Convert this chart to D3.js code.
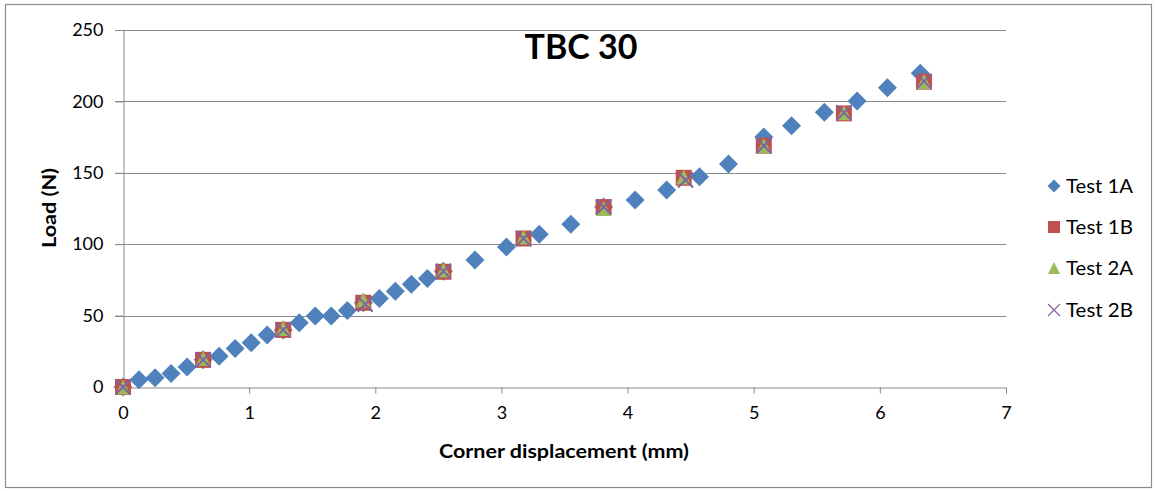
<!DOCTYPE html>
<html><head><meta charset="utf-8">
<script src="https://cdn.jsdelivr.net/npm/d3@7"></script>
<style>body{margin:0;background:#fff;} svg{display:block;}</style>
</head><body>
<svg id="chart" width="1155" height="491"></svg>
<script>
const title = "TBC 30";
const xLabel = "Corner displacement (mm)";
const yLabel = "Load (N)";
const xTicks = [0,1,2,3,4,5,6,7];
const yTicks = [0,50,100,150,200,250];

const test1A_x = [0,0.127,0.254,0.381,0.508,0.635,0.762,0.889,1.016,1.143,1.27,1.397,1.524,1.651,1.778,1.905,2.032,2.159,2.286,2.413,2.54,2.79,3.04,3.30,3.55,3.81,4.06,4.31,4.57,4.80,5.08,5.30,5.56,5.82,6.06,6.32];
const test1A_y = [0,5,6.5,9.5,14,19,21.5,27,31,36.5,40,45,49.7,49.7,53.5,59,62,67,72,76,81,89,98,107,114,126,131,138,147.3,156.2,175,183,192.4,200.3,209.6,219.7];

const test1B_x = [0,0.635,1.27,1.905,2.54,3.175,3.81,4.445,5.08,5.715,6.35];
const test1B_y = [0,19,40,59,80.7,104,126,146.5,169,191.6,213.8];

const test2A_x = [0,0.635,1.27,1.905,2.54,3.175,3.81,4.445,5.08,5.715,6.35];
const test2A_y = [0,20,41,61,82,105,125,147,169,192,214];

const test2B_x = [0,0.635,1.27,1.92,2.54,3.175,3.81,4.46,5.08,5.715,6.35];
const test2B_y = [0,19,40,58,81,104,126,145,169,192,214];

const seriesNames = ["Test 1A","Test 1B","Test 2A","Test 2B"];
const colors = ["#4F81BD","#C0504D","#9BBB59","#8064A2"];

const svg = d3.select("#chart");
const font = "Lato, 'Open Sans', sans-serif";

// outer frame
svg.append("rect").attr("x",5.5).attr("y",4.5).attr("width",1146).attr("height",483)
  .attr("fill","#fff").attr("stroke","#8c8c8c").attr("stroke-width",1.2);

const x = d3.scaleLinear().domain([0,7]).range([123,1006]);
const y = d3.scaleLinear().domain([0,250]).range([387,30]);

// gridlines
svg.append("g").selectAll("line").data(yTicks.filter(d=>d>0)).join("line")
  .attr("x1",x(0)-8).attr("x2",x(7)).attr("y1",d=>Math.round(y(d))+0.5).attr("y2",d=>Math.round(y(d))+0.5)
  .attr("stroke","#8a8a8a").attr("stroke-width",1);

// y axis
const yAxis = d3.axisLeft(y).tickValues(yTicks).tickSize(8).tickPadding(12).tickFormat(d3.format("d"));
const gy = svg.append("g").attr("transform",`translate(${Math.round(x(0))+0.5},0)`).call(yAxis);
// x axis
const xAxis = d3.axisBottom(x).tickValues(xTicks).tickSize(6).tickPadding(13).tickFormat(d3.format("d"));
const gx = svg.append("g").attr("transform",`translate(0,${Math.round(y(0))+0.5})`).call(xAxis);

[gx,gy].forEach(g=>{
  g.selectAll("path.domain").attr("stroke","#8a8a8a");
  g.selectAll(".tick line").attr("stroke","#8a8a8a");
  g.selectAll(".tick text").attr("fill","#000").style("font-family",font).style("font-size","18px");
});

// titles
svg.append("text").attr("x",581).attr("y",59).attr("text-anchor","middle")
  .style("font-family",font).style("font-weight","bold").style("font-size","34px").text(title);
svg.append("text").attr("x",564).attr("y",458).attr("text-anchor","middle")
  .attr("textLength",250).attr("lengthAdjust","spacingAndGlyphs")
  .style("font-family",font).style("font-weight","bold").style("font-size","19px").text(xLabel);
svg.append("text").attr("transform","translate(56,208) rotate(-90)").attr("text-anchor","middle")
  .attr("textLength",80).attr("lengthAdjust","spacingAndGlyphs")
  .style("font-family",font).style("font-weight","bold").style("font-size","19px").text(yLabel);

// marker paths
function diamond(r){return `M0,${-r}L${r},0L0,${r}L${-r},0Z`;}
function square(s){const h=s/2;return `M${-h},${-h}H${h}V${h}H${-h}Z`;}
function triangle(s){const h=s/2;return `M0,${-h}L${h},${h}L${-h},${h}Z`;}
function cross(s){const h=s/2;return `M${-h},${-h}L${h},${h}M${h},${-h}L${-h},${h}`;}

function plot(xs,ys,pathStr,color,isStroke){
  const data = xs.map((v,i)=>[v,ys[i]]);
  svg.append("g").selectAll("path").data(data).join("path")
    .attr("transform",d=>`translate(${x(d[0])},${y(d[1])})`)
    .attr("d",pathStr)
    .attr("fill",isStroke?"none":color)
    .attr("stroke",isStroke?color:"none")
    .attr("stroke-width",isStroke?2:0);
}
plot(test1A_x,test1A_y,diamond(9.5),colors[0],false);
plot(test1B_x,test1B_y,square(16),colors[1],false);
plot(test2A_x,test2A_y,triangle(15),colors[2],false);
plot(test2B_x,test2B_y,cross(15),colors[3],true);

// legend
const legY = [186,227,268,310];
const leg = svg.append("g");
const legShapes = [diamond(6.5),square(12),triangle(12),cross(12)];
seriesNames.forEach((n,i)=>{
  const isX = i===3;
  leg.append("path").attr("transform",`translate(1054,${legY[i]})`).attr("d",legShapes[i])
    .attr("fill",isX?"none":colors[i]).attr("stroke",isX?colors[i]:"none").attr("stroke-width",isX?1.2:0);
  leg.append("text").attr("x",1066).attr("y",legY[i]+7).attr("textLength",67).attr("lengthAdjust","spacingAndGlyphs")
    .style("font-family",font).style("font-size","19px")
    .attr("fill","#000").text(n);
});
</script>
</body></html>
